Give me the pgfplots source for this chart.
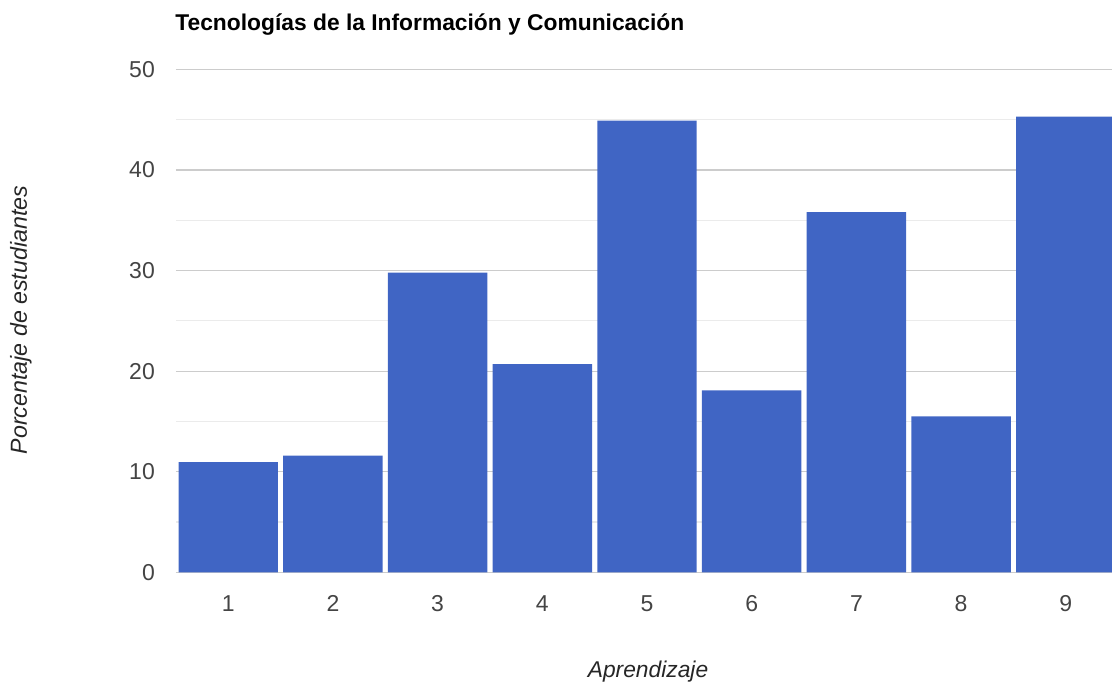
\documentclass[border=0pt]{standalone}
\usepackage{pgfplots}
\pgfplotsset{compat=1.18}
\usepackage{fontspec}
\setmainfont{Liberation Sans}
\definecolor{barblue}{HTML}{4065C4}
\definecolor{majgrid}{HTML}{CCCCCC}
\definecolor{mingrid}{HTML}{EBEBEB}
\definecolor{ticktext}{HTML}{444444}

\begin{document}
\begin{tikzpicture}[x=0.5pt,y=0.5pt]
\useasboundingbox (0,0) rectangle (1112,683);
\begin{axis}[
  at={(168,110)}, anchor=south west,
  scale only axis, width=468.5pt, height=251.5pt,
  xmin=0.5, xmax=9.45, ymin=0, ymax=50,
  axis line style={draw=none},
  tick style={draw=none},
  xtick={1,...,9}, ytick={0,10,...,50},
  minor y tick num=1,
  ymajorgrids, yminorgrids,
  major grid style={majgrid, line width=0.6pt},
  minor grid style={mingrid, line width=0.6pt},
  extra y ticks={0}, extra y tick labels={},
  extra y tick style={grid style={black!80, line width=0.8pt}},
  ticklabel style={font=\fontsize{11.5}{13}\selectfont, text=ticktext},
  /pgf/number format/assume math mode=true,
  yticklabel style={xshift=-7pt},
  xticklabel style={yshift=-4pt},
  ybar, bar width=0.95, bar shift=0pt,
]
\addplot[fill=barblue, draw=none] coordinates {
  (1,10.95) (2,11.6) (3,29.8) (4,20.7) (5,44.9) (6,18.1) (7,35.8) (8,15.5) (9,45.3)
};
\end{axis}
\node[anchor=base west, inner sep=0pt, font=\bfseries\fontsize{11.4}{13}\selectfont] at (175,652) {Tecnologías de la Información y Comunicación};
\node[rotate=90, font=\itshape\fontsize{11.6}{13}\selectfont, text=black!85] at (21,363) {Porcentaje de estudiantes};
\node[font=\itshape\fontsize{11.4}{13}\selectfont, text=black!85] at (648,11) {Aprendizaje};
\end{tikzpicture}
\end{document}
